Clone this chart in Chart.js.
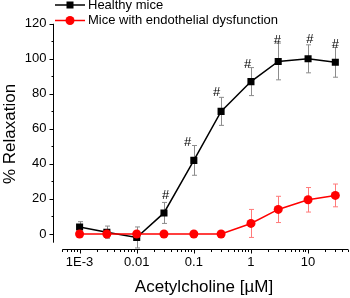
<!DOCTYPE html>
<html>
<head>
<meta charset="utf-8">
<script src="https://cdn.jsdelivr.net/npm/chart.js"></script>
<style>
  html, body { margin: 0; padding: 0; background: #fff; overflow: hidden; }
  #wrap { width: 360px; height: 298px; }
  canvas { display: block; }
</style>
</head>
<body>
<div id="wrap"><canvas id="chart" width="360" height="298"></canvas></div>
<script>
// concentrations of acetylcholine (µM)
const conc = [0.001, 0.003, 0.01, 0.03, 0.1, 0.3, 1, 3, 10, 30];
const healthy = [4, 1, -2, 12, 42, 70, 87, 98.5, 100, 98];
const healthyErr = [3, 3.5, 6, 6, 8.5, 8, 8, 10.5, 8, 8.5];
const dysfunction = [0, 0, 0, 0, 0, 0, 6, 14, 19.5, 22];
const dysfunctionErr = [0, 0, 0, 0, 0, 0, 8, 7.5, 7, 6.5];

// "#" significance marks, in data coordinates
const hashX = [0.032, 0.078, 0.25, 0.87, 2.9, 10.7, 30];
const hashY = [22, 52.5, 81, 97, 110.5, 111, 108];

const xMajor = [0.001, 0.01, 0.1, 1, 10];
const xLabels = ["1E-3", "0.01", "0.1", "1", "10"];
const yMajor = [0, 20, 40, 60, 80, 100, 120];

const FONT = "'Liberation Sans', Arial, sans-serif";

const xTickValues = () => {
  const out = [];
  for (let e = -4; e <= 1; e++) {
    for (let m = 1; m <= 9; m++) {
      const v = parseFloat((m * Math.pow(10, e)).toPrecision(3));
      if (v >= 0.0005 - 1e-9 && v <= 50 + 1e-9) out.push(v);
    }
  }
  return out;
};

const isMajorX = (v) => xMajor.some((m) => Math.abs(m - v) / m < 1e-6);

const errorBarPlugin = {
  id: "errorBars",
  beforeDatasetsDraw(chart) {
    const { ctx, scales: { x, y } } = chart;
    const sets = [
      { vals: healthy, errs: healthyErr, color: "#8c8c8c" },
      { vals: dysfunction, errs: dysfunctionErr, color: "#ff7a7a" },
    ];
    ctx.save();
    ctx.lineWidth = 1;
    sets.forEach((s) => {
      ctx.strokeStyle = s.color;
      conc.forEach((c, i) => {
        if (!s.errs[i]) return;
        const px = Math.round(x.getPixelForValue(c)) + 0.5;
        const top = y.getPixelForValue(s.vals[i] + s.errs[i]);
        const bot = y.getPixelForValue(s.vals[i] - s.errs[i]);
        ctx.beginPath();
        ctx.moveTo(px, top);
        ctx.lineTo(px, bot);
        ctx.moveTo(px - 2.5, top);
        ctx.lineTo(px + 2.5, top);
        ctx.moveTo(px - 2.5, bot);
        ctx.lineTo(px + 2.5, bot);
        ctx.stroke();
      });
    });
    ctx.restore();
  },
  afterDatasetsDraw(chart) {
    const { ctx, scales: { x, y } } = chart;
    ctx.save();
    ctx.fillStyle = "#000";
    ctx.font = "13px " + FONT;
    ctx.textAlign = "center";
    ctx.textBaseline = "middle";
    hashX.forEach((hx, i) => {
      ctx.fillText("#", x.getPixelForValue(hx), y.getPixelForValue(hashY[i]));
    });
    ctx.restore();
  },
};

const axesPlugin = {
  id: "detachedAxes",
  afterDraw(chart) {
    const { ctx, chartArea, scales: { x, y } } = chart;
    ctx.save();
    ctx.strokeStyle = "#000";
    ctx.lineWidth = 1;

    // y axis, shifted left of the plot
    const ax = Math.round(chartArea.left - 9) + 0.5;
    ctx.beginPath();
    ctx.moveTo(ax, y.getPixelForValue(120));
    ctx.lineTo(ax, y.getPixelForValue(-5));
    for (let v = 0; v <= 120; v += 10) {
      const py = Math.round(y.getPixelForValue(v)) + 0.5;
      const len = v % 20 === 0 ? 4 : 2;
      ctx.moveTo(ax - len, py);
      ctx.lineTo(ax, py);
    }
    ctx.stroke();

    // x axis, shifted below the plot
    const ay = Math.round(chartArea.bottom + 6.5) + 0.5;
    ctx.beginPath();
    ctx.moveTo(chartArea.left, ay);
    ctx.lineTo(chartArea.right, ay);
    xTickValues().forEach((v) => {
      const px = Math.round(x.getPixelForValue(v)) + 0.5;
      const len = isMajorX(v) ? 4 : 2.5;
      ctx.moveTo(px, ay);
      ctx.lineTo(px, ay + len);
    });
    ctx.stroke();

    // axis titles
    ctx.fillStyle = "#000";
    ctx.font = "17px " + FONT;
    ctx.textAlign = "center";
    ctx.textBaseline = "middle";
    ctx.fillText("Acetylcholine [\u00b5M]", 204, 287);
    ctx.save();
    ctx.translate(10, 134);
    ctx.rotate(-Math.PI / 2);
    ctx.fillText("% Relaxation", 0, 0);
    ctx.restore();

    // legend
    const rows = [
      { label: "Healthy mice", color: "#000", y: 5, square: true },
      { label: "Mice with endothelial dysfunction", color: "#ff0000", y: 20.5, square: false },
    ];
    ctx.font = "13px " + FONT;
    ctx.textAlign = "left";
    rows.forEach((r) => {
      ctx.strokeStyle = r.color;
      ctx.fillStyle = r.color;
      ctx.lineWidth = 1.5;
      ctx.beginPath();
      ctx.moveTo(55, r.y);
      ctx.lineTo(85, r.y);
      ctx.stroke();
      if (r.square) {
        ctx.fillRect(66.5, r.y - 3.5, 7, 7);
      } else {
        ctx.beginPath();
        ctx.arc(70, r.y, 4.5, 0, Math.PI * 2);
        ctx.fill();
      }
      ctx.fillStyle = "#000";
      ctx.fillText(r.label, 88, r.y);
    });
    ctx.restore();
  },
};

new Chart(document.getElementById("chart"), {
  type: "scatter",
  data: {
    datasets: [
      {
        label: "Healthy mice",
        data: conc.map((c, i) => ({ x: c, y: healthy[i] })),
        showLine: true,
        borderColor: "#000",
        backgroundColor: "#000",
        borderWidth: 1.5,
        pointStyle: "rect",
        pointRadius: 5,
        pointBorderWidth: 0,
        order: 2,
      },
      {
        label: "Mice with endothelial dysfunction",
        data: conc.map((c, i) => ({ x: c, y: dysfunction[i] })),
        showLine: true,
        borderColor: "#ff0000",
        backgroundColor: "#ff0000",
        borderWidth: 1.5,
        pointStyle: "circle",
        pointRadius: 4.5,
        pointBorderWidth: 0,
        order: 1,
      },
    ],
  },
  options: {
    responsive: false,
    animation: false,
    events: [],
    layout: { padding: { left: 0, top: 12.3, right: 5.1, bottom: 0 } },
    plugins: { legend: { display: false }, tooltip: { enabled: false } },
    scales: {
      x: {
        type: "logarithmic",
        min: 0.0005,
        max: 50,
        border: { display: false },
        grid: { display: false, drawTicks: false },
        afterBuildTicks: (scale) => {
          scale.ticks = xTickValues().map((v) => ({ value: v }));
        },
        afterFit: (scale) => { scale.height = 55.3; },
        ticks: {
          autoSkip: false,
          maxRotation: 0,
          padding: 12,
          color: "#000",
          font: { family: FONT, size: 13 },
          callback: (v) => {
            const i = xMajor.findIndex((m) => Math.abs(m - v) / m < 1e-6);
            return i >= 0 ? xLabels[i] : "";
          },
        },
      },
      y: {
        min: -5,
        max: 120,
        border: { display: false },
        grid: { display: false, drawTicks: false },
        afterBuildTicks: (scale) => {
          scale.ticks = yMajor.map((v) => ({ value: v }));
        },
        afterFit: (scale) => { scale.width = 62.4; },
        ticks: {
          padding: 16,
          color: "#000",
          font: { family: FONT, size: 13 },
        },
      },
    },
  },
  plugins: [errorBarPlugin, axesPlugin],
});
</script>
</body>
</html>
